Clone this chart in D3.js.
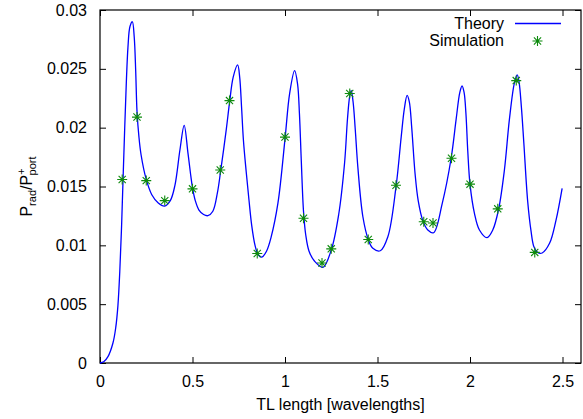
<!DOCTYPE html>
<html lang="en">
<head>
<meta charset="UTF-8">
<title>Radiated power vs TL length</title>
<script src="https://d3js.org/d3.v7.min.js"></script>
<style>
    body { margin: 0; background: #fff; }
    svg { display: block; font-family: "Liberation Sans", Arial, sans-serif; }
</style>
</head>
<body>
<div id="chart"></div>
<script>
    // theory curve
    const theoryX = [0, 0.02, 0.043, 0.07, 0.085, 0.097, 0.107, 0.117, 0.126, 0.137, 0.151, 0.162, 0.175, 0.185, 0.193, 0.2, 0.21, 0.222,
        0.25, 0.28, 0.315, 0.349, 0.38, 0.405, 0.432, 0.455, 0.475, 0.49, 0.5, 0.515, 0.535, 0.56, 0.583, 0.61, 0.635, 0.652, 0.683, 0.70,
        0.72, 0.744, 0.755, 0.765, 0.775, 0.79, 0.805, 0.82, 0.838, 0.855, 0.875, 0.90, 0.925, 0.962, 1.001, 1.025, 1.052, 1.068, 1.078,
        1.088, 1.1, 1.112, 1.13, 1.16, 1.205, 1.25, 1.29, 1.322, 1.338, 1.35, 1.358, 1.368, 1.38, 1.394, 1.421, 1.451, 1.475, 1.515, 1.556,
        1.601, 1.628, 1.645, 1.66, 1.672, 1.685, 1.703, 1.72, 1.745, 1.772, 1.803, 1.85, 1.898, 1.925, 1.945, 1.957, 1.968, 1.978, 1.988,
        2.0, 2.024, 2.051, 2.092, 2.123, 2.155, 2.186, 2.213, 2.24, 2.255, 2.265, 2.278, 2.291, 2.312, 2.33, 2.345, 2.365, 2.39, 2.43,
        2.465, 2.498];
    const theoryY = [0, 0.0001, 0.00054, 0.0017, 0.0030, 0.0049, 0.0078, 0.0118, 0.0163, 0.0215, 0.0268, 0.0286, 0.0290, 0.0277, 0.0248, 0.0214, 0.0193, 0.0177,
        0.0156, 0.0143, 0.0136, 0.01334, 0.0138, 0.0151, 0.0181, 0.0202, 0.0179, 0.0160, 0.0149, 0.0138, 0.0130, 0.01262, 0.01252, 0.0129, 0.0145, 0.0163, 0.0199, 0.0221,
        0.0243, 0.02533, 0.0243, 0.0218, 0.0190, 0.0163, 0.0139, 0.0117, 0.0100, 0.0092, 0.0090, 0.0095, 0.0107, 0.0136, 0.0192, 0.0229, 0.02484, 0.0237, 0.0212,
        0.0172, 0.0129, 0.0109, 0.0095, 0.00865, 0.00813, 0.0096, 0.0126, 0.0170, 0.0208, 0.0227, 0.02314, 0.0222, 0.0198, 0.0166, 0.01243, 0.01045, 0.00975, 0.00954, 0.01073,
        0.0151, 0.0192, 0.0216, 0.02275, 0.0222, 0.0200, 0.0161, 0.0138, 0.0121, 0.0113, 0.01107, 0.01357, 0.0174, 0.0207, 0.0230, 0.02354, 0.0230, 0.0212, 0.0180,
        0.0152, 0.01272, 0.0113, 0.01065, 0.0113, 0.0131, 0.0164, 0.0207, 0.0238, 0.02448, 0.0239, 0.0217, 0.0187, 0.0137, 0.0112, 0.0099, 0.0094, 0.00935, 0.01017,
        0.01215, 0.01485];

    // simulation points
    const simX = [0.12, 0.2, 0.25, 0.35, 0.5, 0.65, 0.7, 0.85, 1.0, 1.1, 1.2, 1.25, 1.35, 1.45, 1.6, 1.75, 1.8, 1.9, 2.0, 2.15, 2.25, 2.35];
    const simY = [0.0156, 0.0209, 0.0155, 0.0138, 0.0148, 0.0164, 0.0223, 0.0093, 0.0192, 0.0123, 0.0085, 0.0097, 0.0229, 0.0105,
        0.0151, 0.0120, 0.0119, 0.0174, 0.0152, 0.0131, 0.0240, 0.0094];

    const xTicks = [0, 0.5, 1, 1.5, 2, 2.5];
    const yTicks = [0, 0.005, 0.01, 0.015, 0.02, 0.025, 0.03];

    const width = 583, height = 419;
    const margin = {top: 10, right: 2, bottom: 56, left: 100};
    const theoryColor = "#0000ff", simColor = "#0d8a0d";

    const svg = d3.select("#chart").append("svg")
        .attr("width", width)
        .attr("height", height);

    const x = d3.scaleLinear().domain([0, 2.6]).range([margin.left, width - margin.right]);
    const y = d3.scaleLinear().domain([0, 0.03]).range([height - margin.bottom, margin.top]);

    const fmt = d => String(d);

    // axes, ticks pointing inward, mirrored on top / right
    svg.append("g")
        .attr("transform", `translate(0,${y(0)})`)
        .call(d3.axisBottom(x).tickValues(xTicks).tickFormat(fmt).tickSizeInner(-6).tickSizeOuter(0).tickPadding(13));
    svg.append("g")
        .attr("transform", `translate(0,${y(0.03)})`)
        .call(d3.axisTop(x).tickValues(xTicks).tickFormat("").tickSizeInner(-6).tickSizeOuter(0));
    svg.append("g")
        .attr("transform", `translate(${x(0)},0)`)
        .call(d3.axisLeft(y).tickValues(yTicks).tickFormat(fmt).tickSizeInner(-6).tickSizeOuter(0).tickPadding(13));
    svg.append("g")
        .attr("transform", `translate(${x(2.6)},0)`)
        .call(d3.axisRight(y).tickValues(yTicks).tickFormat("").tickSizeInner(-6).tickSizeOuter(0));

    svg.selectAll(".tick text")
        .attr("font-size", 16)
        .attr("font-family", "Liberation Sans, Arial, sans-serif")
        .attr("fill", "#000");
    svg.selectAll(".domain").remove();

    // frame
    svg.append("rect")
        .attr("x", x(0)).attr("y", y(0.03))
        .attr("width", x(2.6) - x(0)).attr("height", y(0) - y(0.03))
        .attr("fill", "none").attr("stroke", "#000").attr("stroke-width", 1.2);

    // theory curve
    const theory = theoryX.map((v, i) => [v, theoryY[i]]);
    const line = d3.line()
        .x(d => x(d[0]))
        .y(d => y(d[1]))
        .curve(d3.curveCatmullRom.alpha(0.5));

    svg.append("path")
        .datum(theory)
        .attr("d", line)
        .attr("fill", "none")
        .attr("stroke", theoryColor)
        .attr("stroke-width", 1.3);

    // star marker (gnuplot pt 3)
    const star = "M-5,0H5M0,-5V5M-3.6,-3.6L3.6,3.6M-3.6,3.6L3.6,-3.6";
    const sim = simX.map((v, i) => [v, simY[i]]);

    svg.append("g")
        .selectAll("path")
        .data(sim)
        .join("path")
        .attr("transform", d => `translate(${x(d[0])},${y(d[1])})`)
        .attr("d", star)
        .attr("fill", "none")
        .attr("stroke", simColor)
        .attr("stroke-width", 1.1);

    // legend
    const legend = svg.append("g").attr("font-size", 16);
    legend.append("text")
        .attr("x", 504).attr("y", 29)
        .attr("text-anchor", "end")
        .text("Theory");
    legend.append("line")
        .attr("x1", 515).attr("x2", 561)
        .attr("y1", 23.5).attr("y2", 23.5)
        .attr("stroke", theoryColor).attr("stroke-width", 1.3);
    legend.append("text")
        .attr("x", 504).attr("y", 46)
        .attr("text-anchor", "end")
        .text("Simulation");
    legend.append("path")
        .attr("transform", "translate(537.5,41)")
        .attr("d", star)
        .attr("fill", "none")
        .attr("stroke", simColor)
        .attr("stroke-width", 1.1);

    // axis titles
    svg.append("text")
        .attr("x", (x(0) + x(2.6)) / 2)
        .attr("y", 410)
        .attr("text-anchor", "middle")
        .attr("font-size", 16)
        .text("TL length [wavelengths]");

    const ylab = svg.append("text")
        .attr("transform", `translate(32,${(y(0) + y(0.03)) / 2}) rotate(-90)`)
        .attr("text-anchor", "middle")
        .attr("font-size", 16);
    ylab.append("tspan").text("P");
    ylab.append("tspan").attr("font-size", 11).attr("dy", 4).text("rad");
    ylab.append("tspan").attr("dy", -4).text("/P");
    ylab.append("tspan").attr("font-size", 11).attr("dy", -7).text("+");
    ylab.append("tspan").attr("font-size", 11).attr("dx", -7).attr("dy", 11).text("port");
</script>
</body>
</html>
